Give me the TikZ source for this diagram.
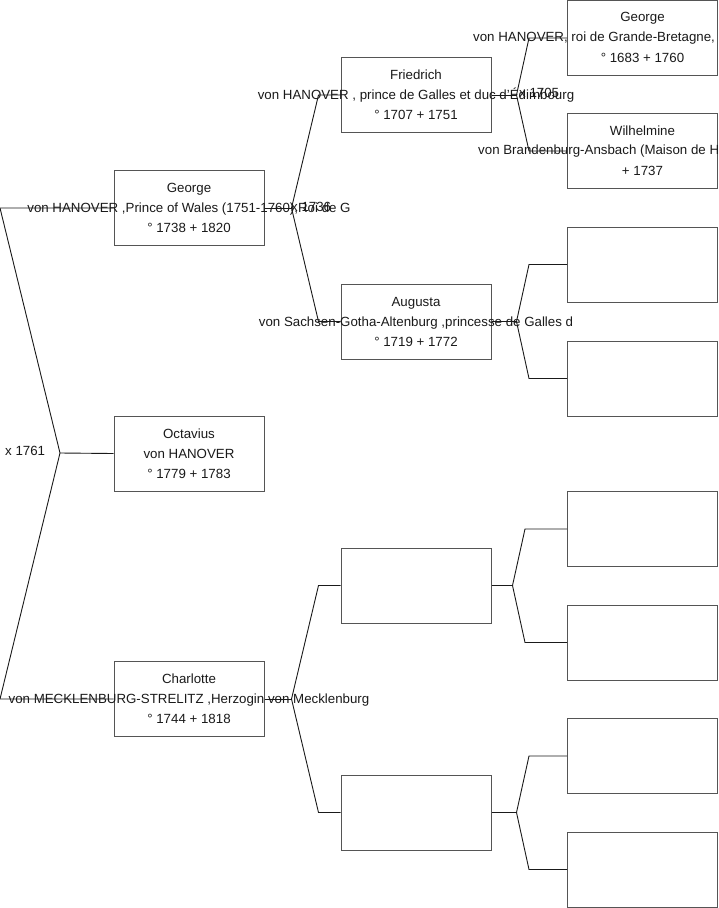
\documentclass[tikz,border=0pt]{standalone}
\usepackage{fontspec}
\setmainfont{Liberation Sans}
\usetikzlibrary{positioning,calc}
\definecolor{frame}{HTML}{555555}
\definecolor{ink}{HTML}{1A1A1A}

\begin{document}
\begin{tikzpicture}[x=1pt,y=-1pt,
  pbox/.style={draw=frame,line width=1pt,minimum width=150pt,minimum height=75pt,inner sep=0pt},
  ptext/.style={align=center,inner sep=0pt,text=ink,font=\fontsize{13.3}{20}\selectfont},
  link/.style={draw=ink,line width=0.9pt}]
\fill[white] (0,0) rectangle (719,908);
\useasboundingbox (0,0) rectangle (719,908);
% generation 1
\node[pbox] (george) at (189,208) {};
\node[pbox] (octavius) at (189,453.5) {};
\node[pbox] (charlotte) at (189,699) {};
% generation 2
\node[pbox] (friedrich) at (416,95) {};
\node[pbox] (augusta) at (416,321.5) {};
\node[pbox] (fatherC) at (416,585.5) {};
\node[pbox] (motherC) at (416,812.5) {};
% generation 3
\foreach \nm/\yy in {georgeI/38,wilhelmine/151,fatherA/264.5,motherA/378.5,
                     ffC/529,fmC/642.5,mfC/756,mmC/869.5}{
  \node[pbox] (\nm) at (642.5,\yy) {};
}
% connectors
\coordinate (root) at (60,453);
\coordinate (rootT) at (0,208);
\coordinate (rootB) at (0,699);
\draw[link] (george.west) -- (rootT) -- (root) -- (rootB) -- (charlotte.west);
\draw[link] (root) -- (octavius.west);
\foreach \pp/\ca/\cb/\fx/\ex in {george/friedrich/augusta/27/22,
    charlotte/fatherC/motherC/27/22,
    friedrich/georgeI/wilhelmine/25/38,
    augusta/fatherA/motherA/25/38,
    fatherC/ffC/fmC/21/42,
    motherC/mfC/mmC/25/38}{
  \draw[link] (\ca.west) -- ++(-\ex,0) -- ($(\pp.east)+(\fx,0)$)
    -- ($(\cb.west)+(-\ex,0)$) -- (\cb.west);
  \draw[link] (\pp.east) -- ++(\fx,0);
}
% names
\node[ptext] (georgeT) at (george) {George\\von HANOVER ,Prince of Wales (1751-1760),Roi de G\\° 1738 + 1820};
\node[ptext] (octaviusT) at (octavius) {Octavius\\von HANOVER\\° 1779 + 1783};
\node[ptext] (charlotteT) at (charlotte) {Charlotte\\von MECKLENBURG-STRELITZ ,Herzogin von Mecklenburg\\° 1744 + 1818};
\node[ptext] (friedrichT) at (friedrich) {Friedrich\\von HANOVER , prince de Galles et duc d'Édimbourg\\° 1707 + 1751};
\node[ptext] (augustaT) at (augusta) {Augusta\\von Sachsen-Gotha-Altenburg ,princesse de Galles d\\° 1719 + 1772};
\node[ptext] (georgeIa) at ([yshift=20pt]georgeI.center) {George};
\node[ptext,anchor=west] (georgeIb) at (473,38) {von HANOVER, roi de Grande-Bretagne,};
\node[ptext] (georgeIc) at ([yshift=-20pt]georgeI.center) {° 1683 + 1760};
\node[ptext] (wilhelminea) at ([yshift=20pt]wilhelmine.center) {Wilhelmine};
\node[ptext,anchor=west] (wilhelmineb) at (478,151) {von Brandenburg-Ansbach (Maison de H};
\node[ptext] (wilhelminec) at ([yshift=-20pt]wilhelmine.center) {+ 1737};
% marriages
\node[ptext,anchor=west] (m1761) at (5,451) {x 1761};
\node[ptext,anchor=west] (m1736) at (291,207) {x 1736};
\node[ptext,anchor=west] (m1705) at (519,93) {x 1705};
\end{tikzpicture}
\end{document}
